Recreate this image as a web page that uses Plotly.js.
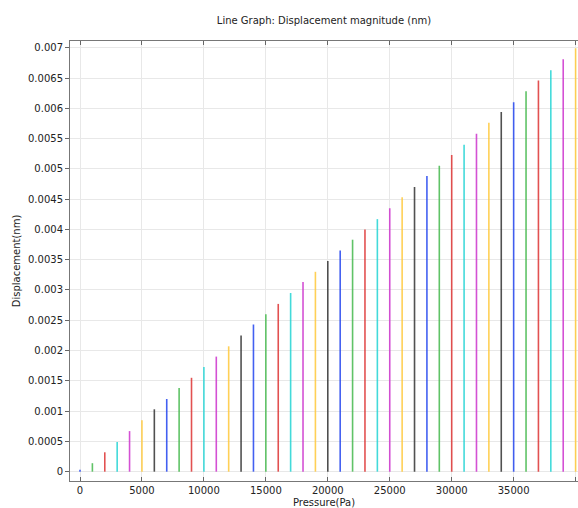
<!DOCTYPE html>
<html>
<head>
<meta charset="utf-8">
<script src="https://cdn.plot.ly/plotly-3.0.1.min.js"></script>
<style>html,body{margin:0;padding:0;background:#fff;}#chart{width:578px;height:508px;}</style>
</head>
<body>
<div id="chart"></div>
<script>
// Pressure (Pa) for each vertical line
const pressure = [0,1000,2000,3000,4000,5000,6000,7000,8000,9000,10000,11000,12000,13000,14000,15000,16000,17000,18000,19000,20000,21000,22000,23000,24000,25000,26000,27000,28000,29000,30000,31000,32000,33000,34000,35000,36000,37000,38000,39000,40000];
// Displacement magnitude (nm) read at top of each line
const displacement = [0.00003,0.00014,0.00032,0.00049,0.00067,0.00085,0.00103,0.0012,0.00138,0.00155,0.00173,0.0019,0.00207,0.00225,0.00243,0.0026,0.00277,0.00295,0.00313,0.0033,0.00348,0.00365,0.00383,0.004,0.00417,0.00435,0.00453,0.0047,0.00488,0.00505,0.00523,0.0054,0.00558,0.00576,0.00594,0.0061,0.00628,0.00646,0.00663,0.00681,0.00699];
const yTickVals = [0,0.0005,0.001,0.0015,0.002,0.0025,0.003,0.0035,0.004,0.0045,0.005,0.0055,0.006,0.0065,0.007];
const yTickText = ["0","0.0005","0.001","0.0015","0.002","0.0025","0.003","0.0035","0.004","0.0045","0.005","0.0055","0.006","0.0065","0.007"];
const xTickVals = [0,5000,10000,15000,20000,25000,30000,35000,40000];
const xTickText = ["0","5000","10000","15000","20000","25000","30000","35000","40000"];

const palette = ['#2244ee','#44b84c','#dd3333','#22d4d4','#cc33cc','#ffc838','#333333'];

const traces = pressure.map((p, i) => ({
  type: 'scatter', mode: 'lines',
  x: [p, p], y: [0, displacement[i]],
  line: {color: palette[i % palette.length], width: 1.6},
  opacity: 0.85,
  hoverinfo: 'skip', showlegend: false
}));

const font = {family: 'DejaVu Sans, sans-serif', size: 10, color: '#222'};

const layout = {
  width: 578, height: 508,
  margin: {l: 70, r: 0, t: 41, b: 27, pad: 0},
  paper_bgcolor: '#fff', plot_bgcolor: '#fff',
  font: font,
  showlegend: false,
  title: {text: 'Line Graph: Displacement magnitude (nm)', font: font, x: 0.5, xref: 'paper', y: 1.053, yref: 'paper', xanchor: 'center', yanchor: 'middle'},
  xaxis: {
    range: [-807, 40194],
    tickvals: xTickVals, ticktext: xTickText,
    ticks: 'inside', ticklen: 4, tickcolor: '#666',
    showline: true, linecolor: '#777', linewidth: 1, mirror: 'ticks',
    showgrid: true, gridcolor: '#e8e8e8', gridwidth: 1,
    zeroline: false,
    tickfont: font,
    title: {text: 'Pressure(Pa)', font: font, standoff: 4}
  },
  yaxis: {
    range: [-0.000154, 0.007111],
    tickvals: yTickVals, ticktext: yTickText,
    ticks: 'outside', ticklen: 4, tickcolor: '#666',
    showline: true, linecolor: '#777', linewidth: 1, mirror: true,
    showgrid: true, gridcolor: '#e8e8e8', gridwidth: 1,
    zeroline: false,
    tickfont: font,
    title: {text: 'Displacement(nm)', font: font, standoff: 5}
  }
};

Plotly.newPlot('chart', traces, layout, {displayModeBar: false, staticPlot: true});
</script>
</body>
</html>
